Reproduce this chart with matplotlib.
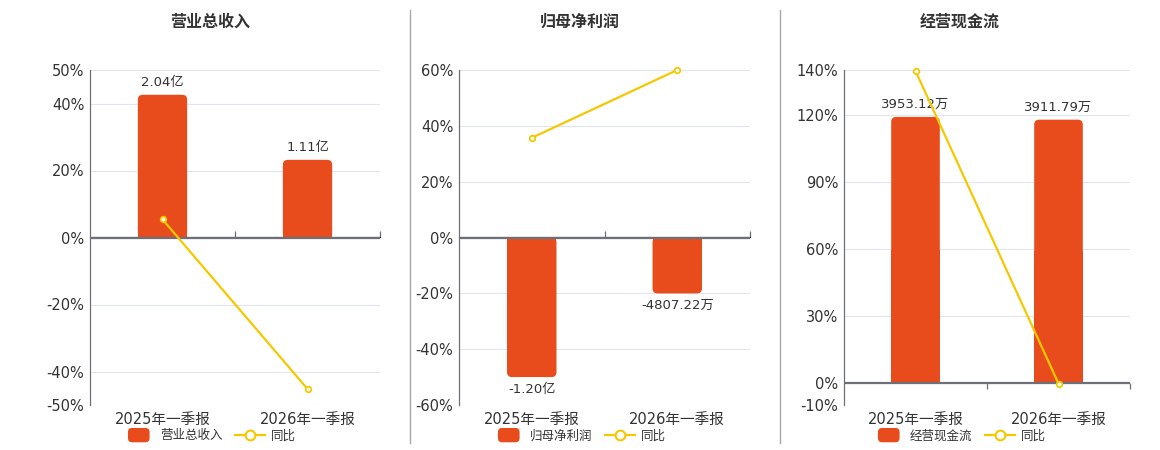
import matplotlib
matplotlib.use("Agg")
import matplotlib.pyplot as plt
from matplotlib.patches import FancyBboxPatch, Patch
from matplotlib.lines import Line2D
from matplotlib.legend_handler import HandlerPatch

plt.rcParams['font.family'] = ['DejaVu Sans', 'Noto Sans CJK SC']

# data
periods = ['2025年一季报', '2026年一季报']

titles = ['营业总收入', '归母净利润', '经营现金流']

revenue = [2.04, 1.11]            # 亿
revenue_labels = ['2.04亿', '1.11亿']
revenue_yoy = [5.4, -45.2]        # %

profit = [-1.20, -0.480722]       # 亿
profit_labels = ['-1.20亿', '-4807.22万']
profit_yoy = [35.7, 60.0]

cashflow = [3953.12, 3911.79]     # 万
cashflow_labels = ['3953.12万', '3911.79万']
cashflow_yoy = [139.6, -0.4]

yoy_ticks = [
    [-50, -40, -20, 0, 20, 40, 50],
    [-60, -40, -20, 0, 20, 40, 60],
    [-10, 0, 30, 60, 90, 120, 140],
]
# hidden bar-axis ranges (aligned with percent axis at zero)
bar_lims = [(-2.394, 2.394), (-1.44, 1.44), (-332.2, 4650.8)]

BAR = '#e84c1c'
LINE = '#f5c800'
AXIS = '#6e7079'
GRID = '#e0e6f1'
TEXT = '#333333'

W, H = 1160, 450
fig = plt.figure(figsize=(W / 100, H / 100), dpi=100)

axes_px = [(90, 380), (459, 750), (844, 1130)]
centers_px = [210, 580, 960]
top_px, bottom_px = 70, 405


def rounded_handle(legend, orig_handle, xdescent, ydescent, width, height, fontsize):
    return FancyBboxPatch((-xdescent + 3, -ydescent - 2), width - 6, height + 4,
                          boxstyle='round,pad=0,rounding_size=3')


panels = [
    (revenue, revenue_labels, revenue_yoy),
    (profit, profit_labels, profit_yoy),
    (cashflow, cashflow_labels, cashflow_yoy),
]

for i, (vals, labels, yoy) in enumerate(panels):
    x0, x1 = axes_px[i]
    rect = [x0 / W, 1 - bottom_px / H, (x1 - x0) / W, (bottom_px - top_px) / H]
    ax = fig.add_axes(rect)
    ticks = yoy_ticks[i]
    ax.set_ylim(ticks[0], ticks[-1])
    ax.set_xlim(-0.5, 1.5)
    ax.set_yticks(ticks)
    ax.set_yticklabels([f'{t}%' for t in ticks])
    ax.set_xticks(range(len(periods)))
    ax.set_xticklabels(periods)
    ax.tick_params(axis='y', length=0, pad=4, labelsize=10.5, labelcolor=TEXT)
    ax.tick_params(axis='x', length=0, pad=5, labelsize=10.5, labelcolor=TEXT)
    ax.grid(axis='y', color=GRID, linewidth=0.8)
    ax.set_axisbelow(True)
    for s in ['top', 'right', 'bottom']:
        ax.spines[s].set_visible(False)
    ax.spines['left'].set_color(AXIS)
    ax.spines['left'].set_linewidth(0.9)

    # bars on hidden twin axis
    axb = ax.twinx()
    axb.set_ylim(*bar_lims[i])
    axb.set_xlim(-0.5, 1.5)
    axb.axis('off')
    width = 0.34
    bars = axb.bar(range(len(vals)), vals, width=width, color=BAR)
    w_px = x1 - x0
    h_px = bottom_px - top_px
    x_upp = 2.0 / w_px
    y_upp = (bar_lims[i][1] - bar_lims[i][0]) / h_px
    r_px = 5
    for b, v, lab in zip(bars, vals, labels):
        bx, by, bw, bh = b.get_x(), b.get_y(), b.get_width(), b.get_height()
        fancy = FancyBboxPatch((bx, min(by, by + bh)), bw, abs(bh),
                               boxstyle=f'round,pad=0,rounding_size={r_px * x_upp}',
                               mutation_aspect=y_upp / x_upp,
                               facecolor=BAR, edgecolor='none')
        axb.add_patch(fancy)
        b.set_height(bh / 2)
        off = 4 if v >= 0 else -4
        axb.annotate(lab, (bx + bw / 2, v), xytext=(0, off), textcoords='offset points',
                     ha='center', va='bottom' if v >= 0 else 'top',
                     fontsize=9.5, color=TEXT)

    # line on another twin sharing percent scale
    axl = ax.twinx()
    axl.set_ylim(ticks[0], ticks[-1])
    axl.set_xlim(-0.5, 1.5)
    axl.axis('off')
    axl.axhline(0, color=AXIS, linewidth=1.6, zorder=1)
    axl.plot(range(len(yoy)), yoy, color=LINE, linewidth=1.6, marker='o',
             markersize=4, markerfacecolor='white', markeredgecolor=LINE,
             markeredgewidth=1.3, zorder=3, clip_on=False)

    zero_frac = (0 - ticks[0]) / (ticks[-1] - ticks[0])
    sec = ax.secondary_xaxis(zero_frac)
    sec.set_xticks([0.5, 1.5])
    sec.set_xticklabels([])
    sec.tick_params(length=4, color=AXIS, width=0.9)
    sec.spines['bottom'].set_visible(False)

    fig.text(centers_px[i] / W, 1 - 22 / H, titles[i], ha='center', va='center',
             fontsize=11.5, fontweight='bold', color=TEXT)

    bar_handle = Patch(facecolor=BAR, edgecolor='none')
    handles = [bar_handle,
               Line2D([], [], color=LINE, linewidth=1.6, marker='o', markersize=7,
                      markerfacecolor='white', markeredgecolor=LINE, markeredgewidth=1.5)]
    fig.legend(handles, [titles[i], '同比'], loc='center', ncol=2,
               bbox_to_anchor=(centers_px[i] / W, 1 - 436 / H), frameon=False,
               fontsize=9, handlelength=2.4, handletextpad=0.5, columnspacing=1.0,
               labelcolor=TEXT,
               handler_map={bar_handle: HandlerPatch(patch_func=rounded_handle)})

for xs in [410, 780]:
    fig.add_artist(Line2D([xs / W, xs / W], [1 - 10 / H, 1 - 443 / H],
                          transform=fig.transFigure, color='#a8a8a8', linewidth=1))

fig.savefig('out.png', dpi=100)
